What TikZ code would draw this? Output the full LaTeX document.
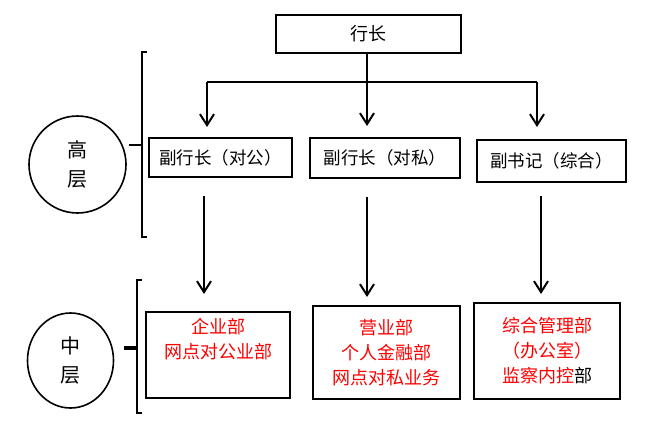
\documentclass[tikz,border=0pt]{standalone}
\usepackage{fontspec}
\newfontfamily\cjk{Noto Sans CJK SC}
\usetikzlibrary{arrows.meta,shapes.geometric}

\tikzset{
  post/.style={draw, line width=2pt, inner sep=0pt, font=\cjk\fontsize{17.5}{20}\selectfont},
  dept/.style={draw, line width=2pt, inner sep=0pt, align=center, text=red,
    font=\cjk\fontsize{18}{25}\selectfont},
  layer/.style={draw, ellipse, line width=1.6pt, inner sep=0pt, align=center,
    font=\cjk\fontsize{20}{29}\selectfont},
  arr/.style={line width=2pt, -{Straight Barb[length=11pt,width=14pt,line width=2pt]}},
  brace/.style={line width=2pt},
}

\begin{document}
\begin{tikzpicture}[x=1pt,y=-1pt]
\useasboundingbox (0,0) rectangle (651,421);

% top post
\node[post, minimum width=185, minimum height=38, font=\cjk\fontsize{18}{20}\selectfont] (boss) at (368.5,34) {行长};

% deputies
\node[post, minimum width=143, minimum height=39] (v1) at (220.5,157.5) {副行长（对公）};
\node[post, minimum width=150, minimum height=40] (v2) at (385,158) {副行长（对私）};
\node[post, minimum width=149, minimum height=42] (v3) at (551.5,161) {副书记（综合）};

% departments
\node[dept, minimum width=144, minimum height=86] (d1) at (218,355) {企业部\\网点对公业部\\\strut};
\node[dept, minimum width=147, minimum height=93] (d2) at (386.5,352.5) {营业部\\个人金融部\\网点对私业务};
\node[dept, minimum width=146, minimum height=96] (d3) at (547,351) {综合管理部\\（办公室）\\监察内控{\color{black}部}};

% layers
\node[layer, minimum width=97, minimum height=97] (hi) at (77.5,164.5) {高\\层};
\node[layer, minimum width=86, minimum height=95] (mid) at (70.5,360.5) {中\\层};

% brackets
\coordinate (hb) at (142,145);
\coordinate (mb) at (137,348);
\draw[brace] (147,52) -- (142,52) -- (142,237) -- (147,237);
\draw[brace] (hi.east |- hb) ++(2,0) -- (hb);
\draw[brace] (142,280) -- (137,280) -- (137,413) -- (142,413);
\draw[line width=3.5pt] (mid.east |- mb) ++(10,0) -- (mb);

% branch lines
\coordinate (bl) at (207,82);
\coordinate (br) at (537,82);
\coordinate (x1) at (204,0);
\coordinate (x2) at (367,0);
\coordinate (x3) at (541,0);
\draw[line width=2pt] (bl) -- (br);
\draw[arr, shorten >=11pt] (boss.south -| x2) -- (v2.north -| x2);
\draw[arr, shorten >=10pt] (bl) -- (bl |- v1.north);
\draw[arr, shorten >=12pt] (br) -- (br |- v3.north);

\draw[arr, shorten <=18pt, shorten >=17pt] (v1.south -| x1) -- (d1.north -| x1);
\draw[arr, shorten <=18pt, shorten >=8pt] (v2.south -| x2) -- (d2.north -| x2);
\draw[arr, shorten <=13pt, shorten >=8pt] (v3.south -| x3) -- (d3.north -| x3);
\end{tikzpicture}
\end{document}
